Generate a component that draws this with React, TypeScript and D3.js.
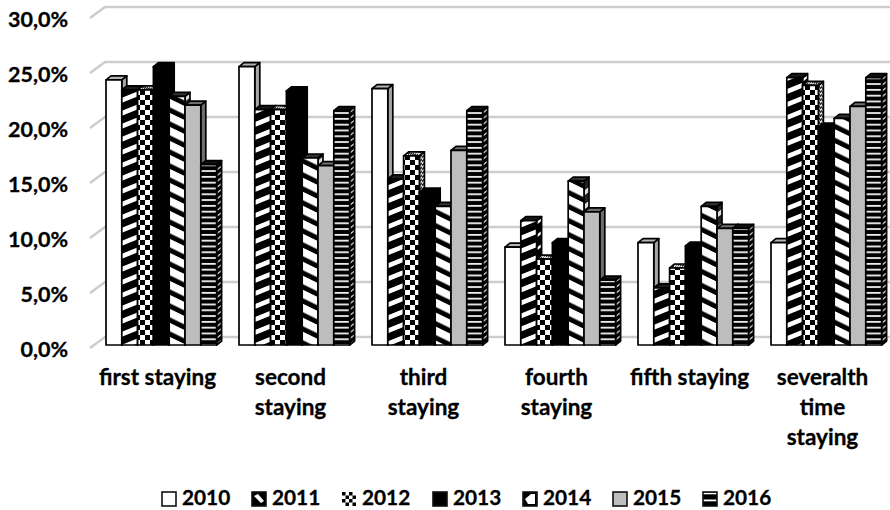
import React from "react";
import * as d3 from "d3";

const categories = [["first staying"], ["second", "staying"], ["third", "staying"], ["fourth", "staying"], ["fifth staying"], ["severalth", "time", "staying"]];
const years = ["2010", "2011", "2012", "2013", "2014", "2015", "2016"];
const s2010 = [24.1, 25.3, 23.3, 8.9, 9.3, 9.3];
const s2011 = [23.2, 21.4, 15.1, 11.3, 5.2, 24.3];
const s2012 = [23.2, 21.4, 17.2, 7.8, 7.0, 23.6];
const s2013 = [25.3, 23.1, 13.9, 9.3, 9.0, 19.8];
const s2014 = [22.6, 17.0, 12.6, 14.9, 12.6, 20.6];
const s2015 = [21.8, 16.3, 17.7, 12.1, 10.6, 21.7];
const s2016 = [16.4, 21.3, 21.3, 5.9, 10.6, 24.3];
const series = [s2010, s2011, s2012, s2013, s2014, s2015, s2016];
const ticks = [0, 5, 10, 15, 20, 25, 30];
const tickText = ["0,0%", "5,0%", "10,0%", "15,0%", "20,0%", "25,0%", "30,0%"];
const legendX = [162, 252, 342, 433, 523, 613, 703];

const font = "Lato, 'Open Sans', sans-serif";
const fills = ["#fff", "url(#p2011)", "url(#p2012)", "#000", "url(#p2014)", "#bdbdbd", "url(#p2016)"];
const sides = ["#a6a6a6", "url(#s2011)", "url(#s2012)", "#000", "url(#s2014)", "#6e6e6e", "url(#s2016)"];
const tops = ["#b5b5b5", "#1a1a1a", "url(#s2012)", "#000", "#333", "#6e6e6e", "#111"];
const swatches = ["#fff", "url(#l2011)", "url(#l2012)", "#000", "url(#l2014)", "#bdbdbd", "url(#l2016)"];

export default function App() {
  const W = 890, H = 510;
  const wallY = d3.scaleLinear().domain([0, 30]).range([348, 18]);
  const y = d3.scaleLinear().domain([0, 30]).range([345, 15]);
  const groupStart = d3.scaleLinear().domain([0, 5]).range([106, 771]);
  const labelCenter = d3.scaleLinear().domain([0, 5]).range([157.5, 822.5]);
  const barX = d3.scaleBand<number>().domain(d3.range(7)).range([0, 110.6]);
  const bw = barX.bandwidth();
  const dx = 5, dy = -4;
  const backDx = 15, backDy = -11;
  return (
    <svg width={W} height={H} style={{ position: "absolute", left: 0, top: 0 }}>
      <defs>
        {/* slanted stripes come from a skewed horizontal band, so they stay continuous across tiles */}
        <pattern id="p2011" patternUnits="userSpaceOnUse" width="16" height="13" patternTransform="skewY(-22)">
          <rect width="16" height="13" fill="#000" />
          <rect y="4" width="16" height="5" fill="#fff" />
        </pattern>
        <pattern id="s2011" patternUnits="userSpaceOnUse" width="5" height="13" patternTransform="skewY(-38)">
          <rect width="5" height="13" fill="#000" />
          <rect y="4" width="5" height="3" fill="#fff" />
        </pattern>
        <pattern id="p2014" patternUnits="userSpaceOnUse" width="16" height="14" patternTransform="skewY(26)">
          <rect width="16" height="14" fill="#000" />
          <rect y="2" width="16" height="8.5" fill="#fff" />
        </pattern>
        <pattern id="s2014" patternUnits="userSpaceOnUse" width="5" height="14" patternTransform="skewY(-38)">
          <rect width="5" height="14" fill="#222" />
          <rect y="3" width="5" height="5" fill="#ddd" />
        </pattern>
        <pattern id="p2012" patternUnits="userSpaceOnUse" width="10" height="10">
          <rect width="10" height="10" fill="#fff" />
          <rect x="0" y="0" width="5" height="5" fill="#000" />
          <rect x="5" y="5" width="5" height="5" fill="#000" />
        </pattern>
        <pattern id="s2012" patternUnits="userSpaceOnUse" width="4" height="4" patternTransform="skewY(-38)">
          <rect width="4" height="4" fill="#ddd" />
          <rect width="2" height="2" fill="#333" />
          <rect x="2" y="2" width="2" height="2" fill="#333" />
        </pattern>
        <pattern id="p2016" patternUnits="userSpaceOnUse" width="8" height="5.8">
          <rect width="8" height="5.8" fill="#000" />
          <rect y="2" width="8" height="1.7" fill="#fff" />
        </pattern>
        <pattern id="s2016" patternUnits="userSpaceOnUse" width="5" height="5.8" patternTransform="skewY(-38)">
          <rect width="5" height="5.8" fill="#000" />
          <rect y="2" width="5" height="1.7" fill="#ccc" />
        </pattern>
        <pattern id="l2011" patternUnits="userSpaceOnUse" width="14" height="14" x="252" y="492">
          <rect width="14" height="14" fill="#000" />
          <path d="M2 4L6 2L12 9L9 11Z" fill="#fff" />
        </pattern>
        <pattern id="l2012" patternUnits="userSpaceOnUse" width="7" height="7" x="342" y="492">
          <rect width="7" height="7" fill="#fff" />
          <rect width="3.5" height="3.5" fill="#000" />
          <rect x="3.5" y="3.5" width="3.5" height="3.5" fill="#000" />
        </pattern>
        <pattern id="l2014" patternUnits="userSpaceOnUse" width="14" height="14" x="523" y="492">
          <rect width="14" height="14" fill="#000" />
          <path d="M2 7L8 2L12 2L12 12L5 12Z" fill="#fff" />
        </pattern>
        <pattern id="l2016" patternUnits="userSpaceOnUse" width="14" height="7" x="703" y="492">
          <rect width="14" height="7" fill="#000" />
          <rect y="0.5" width="14" height="1.8" fill="#fff" />
        </pattern>
      </defs>

      {/* back wall gridlines with their short side-wall returns */}
      {ticks.map((t) => (
        <path
          key={t}
          d={`M90 ${wallY(t)}L${90 + backDx} ${wallY(t) + backDy}L890 ${wallY(t) + backDy}`}
          stroke="#cdcdcd"
          strokeWidth={2.6}
          fill="none"
        />
      ))}

      {/* columns, drawn left to right so each one covers its neighbour's side face */}
      {categories.map((_, c) =>
        series.map((vals, s) => {
          const x0 = groupStart(c) + (barX(s) as number);
          const x1 = x0 + bw;
          const yt = y(vals[c]);
          const yb = y(0);
          return (
            <g key={`${c}-${s}`} stroke="#000" strokeWidth={1.7} strokeLinejoin="round">
              <path d={`M${x1} ${yt}L${x1 + dx} ${yt + dy}L${x1 + dx} ${yb + dy}L${x1} ${yb}Z`} fill={sides[s]} />
              <path d={`M${x0} ${yt}L${x0 + dx} ${yt + dy}L${x1 + dx} ${yt + dy}L${x1} ${yt}Z`} fill={tops[s]} />
              <rect x={x0} y={yt} width={bw} height={yb - yt} fill={fills[s]} />
            </g>
          );
        })
      )}

      {/* value axis labels */}
      {ticks.map((t, i) => (
        <text key={t} x={68} y={wallY(t) + 9} textAnchor="end" fontFamily={font} fontWeight={700} fontSize={21.5} stroke="#000" strokeWidth={0.3} fill="#000">
          {tickText[i]}
        </text>
      ))}

      {/* category labels */}
      {categories.map((lines, c) => (
        <text key={c} textAnchor="middle" fontFamily={font} fontWeight={700} fontSize={22.5} stroke="#000" strokeWidth={0.3} fill="#000">
          {lines.map((l, i) => (
            <tspan key={l} x={labelCenter(c)} y={385 + i * 30}>{l}</tspan>
          ))}
        </text>
      ))}

      {/* legend */}
      {years.map((yr, i) => (
        <g key={yr}>
          <rect x={legendX[i]} y={492} width={14} height={14} fill={swatches[i]} stroke={i === 2 ? "none" : "#111"} strokeWidth={1.6} />
          <text x={legendX[i] + 20} y={505} fontFamily={font} fontWeight={700} fontSize={20.8} stroke="#000" strokeWidth={0.3} fill="#000">{yr}</text>
        </g>
      ))}
    </svg>
  );
}
